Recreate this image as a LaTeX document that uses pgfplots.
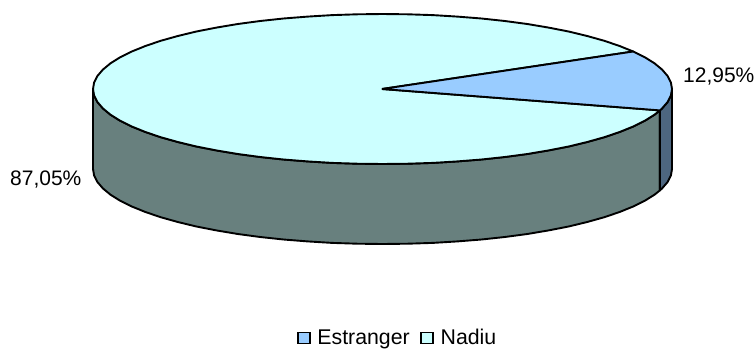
\documentclass[border=0pt]{standalone}
\usepackage{fontspec}
\setmainfont{Liberation Sans}
\usepackage{pgfplots}
\pgfplotsset{compat=1.18}

\definecolor{nadiu}{HTML}{CCFFFF}
\definecolor{estr}{HTML}{99CCFF}
\definecolor{nadiuside}{HTML}{68807E}
\definecolor{estrside}{HTML}{4D6680}

\begin{document}
\begin{tikzpicture}
\path[use as bounding box] (0,0) rectangle (755pt,349pt);
\begin{axis}[
  at={(0,0)}, anchor=south west,
  width=755pt, height=349pt, scale only axis,
  xmin=0, xmax=755, ymin=0, ymax=349, y dir=reverse,
  hide axis, clip=false,
  font=\fontsize{21}{24}\selectfont,
  legend columns=2,
  legend style={at={(axis cs:297,338)}, anchor=west, draw=none, fill=none,
    inner sep=0pt, outer sep=0pt, font=\fontsize{21.3}{24}\selectfont,
    /tikz/every even column/.append style={column sep=8.5pt},
    /tikz/every odd column/.append style={column sep=4.5pt}},
  legend image code/.code={
    \draw[#1, draw=black, line width=1.9pt] (0pt,-5.5pt) rectangle (12pt,5.5pt);
  },
  slice/.style={draw=black, line width=1.9pt, line join=round, mark=none, forget plot},
]
% side wall, Nadiu (87,05 %)
\addplot[slice, fill=nadiuside] coordinates {
  (659.9,110.4)(654.5,114.7)(644.9,120.7)(633.2,126.5)(619.6,132)(604.3,137.2)
  (587.2,142)(568.6,146.5)(548.6,150.4)(527.3,154)(504.8,157)(481.5,159.5)
  (457.4,161.4)(432.8,162.9)(407.7,163.7)(382.5,164)(357.3,163.7)(332.2,162.9)
  (307.6,161.4)(283.5,159.5)(260.2,157)(237.8,154)(216.4,150.4)(196.4,146.5)
  (177.8,142)(160.7,137.2)(145.4,132)(131.8,126.5)(120.1,120.7)(110.5,114.7)
  (102.9,108.4)(97.4,102)(94.1,95.5)(93,89)
  (93,169)(94.1,175.5)(97.4,182)(102.9,188.4)(110.5,194.7)(120.1,200.7)
  (131.8,206.5)(145.4,212)(160.7,217.2)(177.8,222)(196.4,226.5)(216.4,230.4)
  (237.8,234)(260.2,237)(283.5,239.5)(307.6,241.4)(332.2,242.9)(357.3,243.7)
  (382.5,244)(407.7,243.7)(432.8,242.9)(457.4,241.4)(481.5,239.5)(504.8,237)
  (527.3,234)(548.6,230.4)(568.6,226.5)(587.2,222)(604.3,217.2)(619.6,212)
  (633.2,206.5)(644.9,200.7)(654.5,194.7)(659.9,190.4)(659.9,110.4)
};
% side wall, Estranger (12,95 %)
\addplot[slice, fill=estrside] coordinates {
  (672,89)(670.9,95.5)(667.6,102)(662.1,108.4)(659.9,110.4)
  (659.9,190.4)(662.1,188.4)(667.6,182)(670.9,175.5)(672,169)(672,89)
};
% top, Nadiu
\addplot[slice, fill=nadiu] coordinates {
  (382,89)
  (659.9,110.4)(654.5,114.7)(644.9,120.7)(633.2,126.5)(619.6,132)(604.3,137.2)
  (587.2,142)(568.6,146.5)(548.6,150.4)(527.3,154)(504.8,157)(481.5,159.5)
  (457.4,161.4)(432.8,162.9)(407.7,163.7)(382.5,164)(357.3,163.7)(332.2,162.9)
  (307.6,161.4)(283.5,159.5)(260.2,157)(237.8,154)(216.4,150.4)(196.4,146.5)
  (177.8,142)(160.7,137.2)(145.4,132)(131.8,126.5)(120.1,120.7)(110.5,114.7)
  (102.9,108.4)(97.4,102)(94.1,95.5)(93,89)
  (94.1,82.5)(97.4,76)(102.9,69.6)(110.5,63.3)(120.1,57.3)(131.8,51.5)
  (145.4,46)(160.7,40.8)(177.8,36)(196.4,31.5)(216.4,27.6)(237.8,24)
  (260.2,21)(283.5,18.5)(307.6,16.6)(332.2,15.1)(357.3,14.3)(382.5,14)
  (407.7,14.3)(432.8,15.1)(457.4,16.6)(481.5,18.5)(504.8,21)(527.3,24)
  (548.6,27.6)(568.6,31.5)(587.2,36)(604.3,40.8)(619.6,46)(633.2,51.5)
  (382,89)
};
% top, Estranger
\addplot[slice, fill=estr] coordinates {
  (382,89)(633.2,51.5)(644.9,57.3)(654.5,63.3)(662.1,69.6)(667.6,76)(670.9,82.5)
  (672,89)(670.9,95.5)(667.6,102)(662.1,108.4)(659.9,110.4)(382,89)
};
\addlegendimage{fill=estr}
\addlegendentry{Estranger}
\addlegendimage{fill=nadiu}
\addlegendentry{Nadiu}
\node[anchor=west, inner sep=0pt] at (axis cs:683,77) {12,95\%};
\node[anchor=west, inner sep=0pt] at (axis cs:10,180) {87,05\%};
\end{axis}
\end{tikzpicture}
\end{document}
